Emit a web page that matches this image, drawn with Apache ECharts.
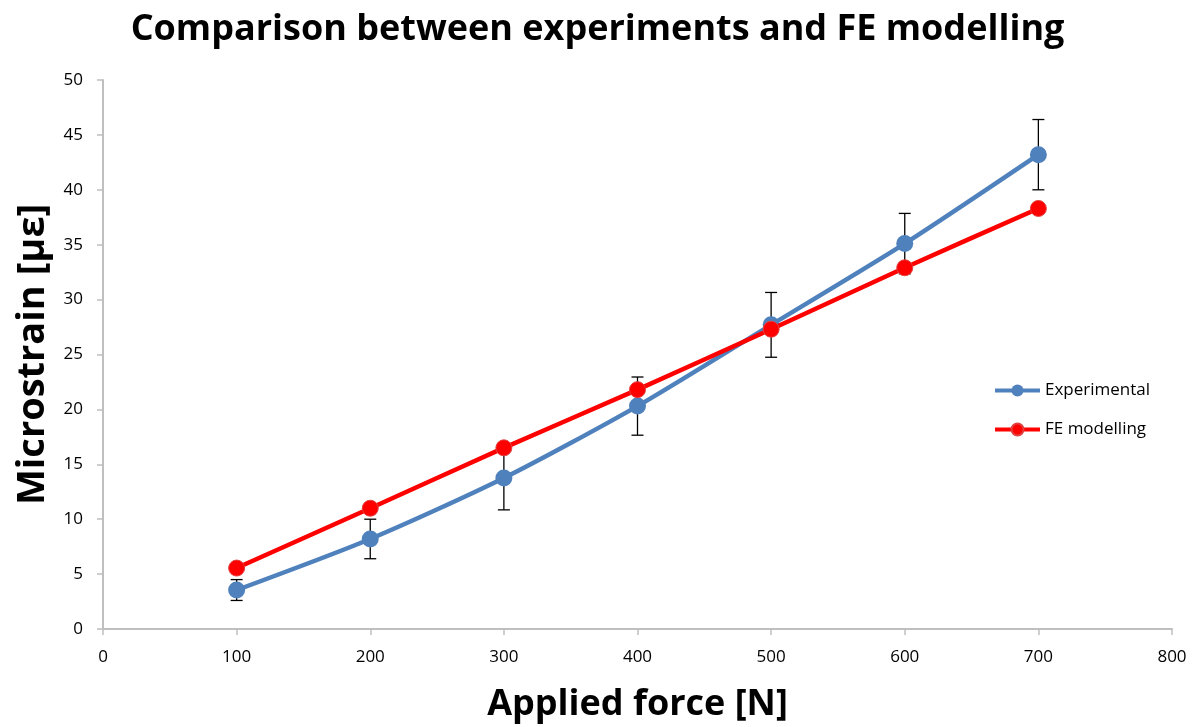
<!DOCTYPE html>
<html>
<head>
<meta charset="utf-8" />
<title>Comparison between experiments and FE modelling</title>
<script src="https://cdn.jsdelivr.net/npm/echarts@6/dist/echarts.min.js"></script>
<style>
  html, body { margin: 0; padding: 0; background: #fff; }
  #main { width: 1195px; height: 727px; }
</style>
</head>
<body>
<div id="main"></div>
<script type="text/javascript">
// values
var forces = [100, 200, 300, 400, 500, 600, 700];
var experimental = [3.55, 8.2, 13.75, 20.3, 27.7, 35.1, 43.2];
var expError = [0.95, 1.8, 2.9, 2.65, 2.95, 2.75, 3.2];
var feModelling = [5.55, 11.0, 16.5, 21.8, 27.3, 32.9, 38.3];

function pairs(xs, ys) {
    var out = [];
    for (var i = 0; i < xs.length; i++) out.push([xs[i], ys[i]]);
    return out;
}

var errData = [];
for (var i = 0; i < forces.length; i++) {
    errData.push([forces[i], experimental[i] - expError[i], experimental[i] + expError[i]]);
}

var myChart = echarts.init(document.getElementById('main'));
var font = 'Open Sans, Noto Sans, sans-serif';

var option = {
    animation: false,
    title: {
        text: 'Comparison between experiments and FE modelling',
        left: 'center',
        top: 7,
        textStyle: { fontFamily: font, fontSize: 36, fontWeight: 'bold', color: '#000' }
    },
    legend: {
        orient: 'vertical',
        left: 988,
        top: 377,
        itemWidth: 45,
        itemHeight: 15,
        itemGap: 22,
        lineStyle: { width: 4 },
        textStyle: { fontFamily: font, fontSize: 17, color: '#000' },
        data: ['Experimental', 'FE modelling']
    },
    grid: { left: 103, right: 23, top: 80, bottom: 98, containLabel: false, outerBoundsMode: 'none' },
    xAxis: {
        type: 'value',
        min: 0, max: 800, interval: 100,
        name: 'Applied force [N]',
        nameLocation: 'middle',
        nameGap: 58,
        nameTextStyle: { fontFamily: font, fontSize: 36, fontWeight: 'bold', color: '#000' },
        axisLine: { lineStyle: { color: '#bfbfbf', width: 2 } },
        axisTick: { show: true, length: 6, lineStyle: { color: '#bfbfbf', width: 1.5 } },
        axisLabel: { fontFamily: font, fontSize: 17, color: '#000', margin: 20 },
        splitLine: { show: false }
    },
    yAxis: {
        type: 'value',
        min: 0, max: 50, interval: 5,
        name: 'Microstrain [με]',
        nameLocation: 'middle',
        nameGap: 44,
        nameTextStyle: { fontFamily: font, fontSize: 38, fontWeight: 'bold', color: '#000' },
        axisLine: { show: true, lineStyle: { color: '#bfbfbf', width: 2 } },
        axisTick: { show: true, length: 6, lineStyle: { color: '#bfbfbf', width: 1.5 } },
        axisLabel: { fontFamily: font, fontSize: 17, color: '#000', margin: 20 },
        splitLine: { show: false }
    },
    series: [
        {
            name: 'Experimental',
            type: 'line',
            data: pairs(forces, experimental),
            smooth: 0.25,
            symbol: 'circle',
            symbolSize: 17,
            lineStyle: { color: '#4f81bd', width: 4.5 },
            itemStyle: { color: '#4f81bd' },
            z: 3
        },
        {
            name: 'FE modelling',
            type: 'line',
            data: pairs(forces, feModelling),
            smooth: 0.25,
            symbol: 'circle',
            symbolSize: 16,
            lineStyle: { color: '#ff0000', width: 4.5 },
            itemStyle: { color: '#ff0000', borderColor: '#e04040', borderWidth: 1 },
            z: 4
        },
        {
            name: 'error',
            type: 'custom',
            data: errData,
            z: 2,
            renderItem: function (params, api) {
                var x = api.value(0);
                var lo = api.coord([x, api.value(1)]);
                var hi = api.coord([x, api.value(2)]);
                var w = 6;
                var style = { stroke: '#000', lineWidth: 1.3 };
                return {
                    type: 'group',
                    children: [
                        { type: 'line', shape: { x1: hi[0], y1: hi[1], x2: lo[0], y2: lo[1] }, style: style },
                        { type: 'line', shape: { x1: hi[0] - w, y1: hi[1], x2: hi[0] + w, y2: hi[1] }, style: style },
                        { type: 'line', shape: { x1: lo[0] - w, y1: lo[1], x2: lo[0] + w, y2: lo[1] }, style: style }
                    ]
                };
            }
        }
    ]
};
myChart.setOption(option);
</script>
</body>
</html>
